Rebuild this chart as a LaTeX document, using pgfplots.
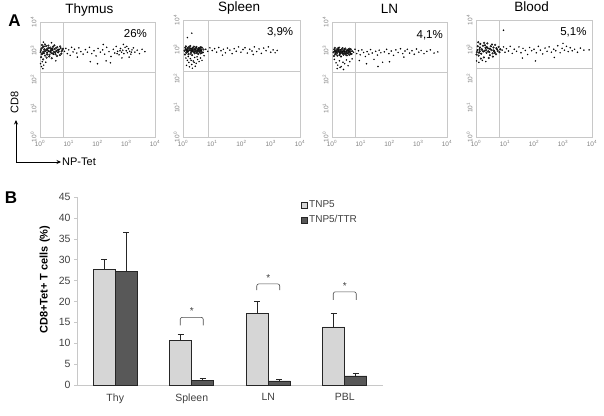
\documentclass[border=0pt]{standalone}
\usepackage{pgfplots}
\pgfplotsset{compat=1.18}
\usepackage{pgfplotstable}
\usepackage{fontspec}
\setmainfont{Liberation Sans}
\usetikzlibrary{arrows.meta}
\definecolor{lightbar}{HTML}{D6D6D6}
\definecolor{darkbar}{HTML}{585858}
\definecolor{axgray}{HTML}{C8C8C8}
\definecolor{txtgray}{HTML}{404040}

% ---------- flow cytometry data (log10 units) ----------
\pgfplotstableread{
x y
0.03 3.02
0.06 2.88
0.09 3.12
0.12 2.97
0.15 3.05
0.18 2.83
0.21 3.16
0.24 2.93
0.27 3.08
0.30 2.99
0.33 2.86
0.36 3.11
0.39 3.01
0.42 2.91
0.45 3.14
0.48 2.96
0.51 3.06
0.54 2.88
0.57 3.00
0.60 3.12
0.63 2.94
0.66 3.04
0.69 2.85
0.72 3.09
0.75 2.98
0.78 3.03
0.04 2.78
0.07 3.20
0.11 2.70
0.14 2.91
0.17 3.22
0.20 3.00
0.23 2.76
0.26 3.02
0.29 3.18
0.32 2.80
0.35 2.98
0.38 3.06
0.41 2.74
0.44 3.03
0.47 2.89
0.50 3.19
0.53 2.95
0.56 3.10
0.59 2.82
0.62 3.02
0.65 2.97
0.70 3.15
0.74 2.90
0.80 3.07
0.02 2.95
0.05 3.08
0.10 2.92
0.13 3.15
0.16 2.98
0.22 3.05
0.25 2.87
0.31 3.09
0.37 2.94
0.43 3.07
}\thycore
\pgfplotstableread{
x y
0.02 2.55
0.05 2.45
0.08 2.62
0.10 2.38
0.13 2.50
0.20 2.60
0.12 3.30
0.40 3.28
0.55 2.65
0.85 2.98
0.90 3.08
0.95 2.90
1.00 3.03
1.05 2.84
1.10 3.12
1.15 2.96
1.20 3.05
1.28 2.92
1.35 3.10
1.42 2.97
1.50 2.88
1.58 3.04
1.65 2.95
1.72 3.12
1.80 2.90
1.88 3.00
1.95 2.82
2.02 3.08
2.10 2.95
2.18 3.03
2.25 2.88
2.32 3.12
2.40 2.97
2.47 2.80
2.55 3.05
2.60 2.92
2.65 3.15
2.70 2.98
2.75 2.86
2.80 3.08
2.84 2.95
2.88 3.02
2.92 2.90
2.96 3.12
3.00 3.00
3.04 2.93
3.08 3.07
3.12 2.98
3.16 2.88
3.20 3.03
3.25 3.10
3.30 2.95
3.38 3.02
3.46 2.90
3.55 3.05
3.65 2.97
2.30 2.65
2.45 2.58
1.75 2.62
2.85 2.75
3.10 2.78
2.20 3.22
2.90 3.22
1.30 2.78
3.02 3.15
3.18 2.95
2.78 3.00
2.68 2.90
2.00 2.55
}\thysparse
\pgfplotstableread{
x y
0.05 2.95
0.08 3.05
0.11 2.88
0.14 3.00
0.17 2.92
0.20 3.08
0.23 2.97
0.26 2.85
0.29 3.02
0.32 2.94
0.35 3.06
0.38 2.90
0.41 2.99
0.44 3.04
0.47 2.87
0.50 2.96
0.53 3.03
0.56 2.91
0.59 3.00
0.62 2.94
0.65 3.05
0.68 2.89
0.07 2.82
0.10 3.10
0.13 2.93
0.16 3.04
0.19 2.83
0.22 3.00
0.25 3.11
0.28 2.90
0.31 2.80
0.34 2.98
0.37 3.09
0.40 2.86
0.43 2.95
0.46 3.08
0.49 2.92
0.52 2.84
0.55 3.01
0.58 2.96
0.61 3.07
0.64 2.88
0.70 2.99
0.12 2.97
0.18 2.96
0.24 3.03
0.30 2.95
0.36 2.92
0.42 3.02
0.48 2.97
0.54 2.93
0.60 2.86
0.09 2.99
0.15 2.90
0.21 3.04
0.27 2.96
0.33 3.01
0.39 2.97
0.45 2.91
0.51 3.00
0.57 3.05
0.63 2.98
}\lymcore
\pgfplotstableread{
x y
0.10 2.70
0.15 2.62
0.20 2.55
0.25 2.68
0.30 2.48
0.35 2.60
0.40 2.72
0.45 2.52
0.50 2.65
0.55 2.58
0.60 2.70
0.12 2.45
0.22 2.40
0.32 2.35
0.42 2.42
0.18 2.75
0.28 2.62
0.38 2.55
0.48 2.74
0.65 2.62
0.72 2.78
0.78 3.00
0.85 2.93
0.92 3.05
1.00 2.96
1.08 3.02
1.15 2.90
1.22 3.06
1.30 2.95
1.38 3.00
1.45 2.88
1.52 3.04
1.60 2.97
1.68 2.85
1.75 3.02
1.82 2.93
1.90 3.08
1.98 2.90
2.05 2.99
2.12 3.05
2.20 2.87
2.28 3.00
2.36 2.94
2.44 3.08
2.52 2.92
2.60 3.01
2.68 2.86
2.76 3.04
2.84 2.95
2.92 3.08
3.00 2.90
3.08 2.98
3.15 2.88
3.22 2.96
0.30 3.55
0.15 3.40
1.35 2.80
2.40 2.82
}\splsparse
\pgfplotstableread{
x y
0.08 2.70
0.14 2.58
0.20 2.50
0.26 2.65
0.32 2.45
0.38 2.60
0.44 2.55
0.50 2.68
0.56 2.48
0.62 2.62
0.18 2.38
0.28 2.42
0.40 2.35
0.70 2.72
0.75 2.95
0.80 3.05
0.86 2.90
0.92 3.00
0.98 2.86
1.04 3.03
1.10 2.94
1.16 2.80
1.22 2.97
1.28 2.88
1.34 3.04
1.40 2.92
1.46 2.70
1.52 2.98
1.58 2.85
1.64 3.02
1.70 2.93
1.76 2.60
1.82 2.96
1.90 3.05
1.98 2.90
2.06 2.99
2.14 2.84
2.22 3.03
2.30 2.94
2.38 3.07
2.46 2.90
2.54 2.99
2.62 3.05
2.70 2.92
2.78 3.00
2.86 2.88
2.94 3.06
3.02 2.95
3.10 3.01
3.20 2.90
3.30 2.98
3.42 3.03
3.55 2.92
3.68 2.96
1.20 2.55
1.60 2.45
2.00 2.62
0.95 2.66
2.50 2.78
}\lnsparse
\pgfplotstableread{
x y
0.03 2.90
0.06 3.10
0.09 2.78
0.12 3.00
0.15 3.18
0.18 2.85
0.21 2.98
0.24 3.12
0.27 2.72
0.30 2.95
0.33 3.05
0.36 2.88
0.39 3.20
0.42 2.93
0.45 3.02
0.48 2.80
0.51 3.10
0.54 2.97
0.57 2.86
0.60 3.06
0.63 2.92
0.66 3.15
0.69 2.83
0.72 3.00
0.75 2.94
0.78 3.08
0.81 2.90
0.84 3.00
0.05 2.97
0.10 2.88
0.14 3.06
0.20 3.00
0.25 2.92
0.31 3.14
0.35 2.97
0.40 3.04
0.46 2.90
0.50 3.00
0.55 3.16
0.61 2.96
0.65 2.88
0.70 3.04
0.08 3.24
0.17 2.68
0.28 3.22
0.44 2.70
0.58 2.75
0.02 2.82
0.13 2.93
0.37 3.08
}\bldcore
\pgfplotstableread{
x y
0.02 2.60
0.10 2.55
0.22 2.62
0.34 2.58
0.90 2.97
0.95 3.08
1.00 2.90
1.05 3.02
1.12 2.94
1.18 3.10
1.25 2.86
1.32 3.00
1.40 2.93
1.48 3.08
1.55 2.88
1.62 3.03
1.70 2.96
1.78 2.82
1.85 3.06
1.92 2.95
2.00 3.00
2.08 2.88
2.15 3.10
2.22 2.97
2.30 2.84
2.38 3.04
2.45 2.93
2.52 3.08
2.60 2.90
2.68 3.00
2.75 2.95
2.82 3.12
2.90 2.88
2.97 3.03
3.05 2.97
3.12 3.10
3.18 2.92
3.25 3.05
3.32 2.95
3.40 3.00
3.50 2.90
3.60 3.04
3.72 2.97
3.90 2.98
0.95 3.65
2.05 2.60
2.70 2.72
3.00 3.20
1.60 2.70
}\bldsparse

% ---------- bar chart data ----------
\pgfplotstableread{
c  a    ea   b    eb
0  27.7 2.4  27.2 9.3
1  10.6 1.5  1.1  0.4
2  17.2 2.8  1.0  0.4
3  13.9 3.3  2.2  0.7
}\bardata

\pgfplotsset{
  facs/.style={
    scale only axis, width=115pt, height=115pt,
    xmin=0, xmax=4, ymin=0, ymax=4,
    anchor=south west, clip=false,
    axis line style={axgray, line width=0.5pt},
    major tick length=0pt,
    xtick={0,1,2,3,4}, ytick={0,1,2,3,4},
    xticklabels={10\textsuperscript{0},10\textsuperscript{1},10\textsuperscript{2},10\textsuperscript{3},10\textsuperscript{4}},
    yticklabels={10\textsuperscript{0},10\textsuperscript{1},10\textsuperscript{2},10\textsuperscript{3},10\textsuperscript{4}},
    xticklabel style={font=\fontsize{6.5}{7}\selectfont, text=gray},
    yticklabel style={font=\fontsize{6.5}{7}\selectfont, text=gray, rotate=90, anchor=south},
  },
  core/.style={only marks, mark=*, mark size=0.85pt, mark options={draw=none, fill=black!48}},
  sparse/.style={only marks, mark=*, mark size=0.55pt, mark options={draw=none, fill=black!36}},
}

\begin{document}
\begin{tikzpicture}
\useasboundingbox (0pt,0pt) rectangle (604pt,-415pt);

% panel letters
\node[font=\fontsize{17}{19}\selectfont\bfseries] at (14.5pt,-21pt) {A};
\node[font=\fontsize{17}{19}\selectfont\bfseries] at (11pt,-197.5pt) {B};

% CD8 / NP-Tet arrows
\draw[line width=0.8pt, -{Stealth[length=4.5pt,width=4pt]}] (16pt,-162pt) -- (16pt,-120pt);
\draw[line width=0.8pt, -{Stealth[length=4.5pt,width=4pt]}] (16pt,-162pt) -- (61pt,-162pt);
\node[font=\fontsize{11}{13}\selectfont, rotate=90] at (14.5pt,-102pt) {CD8};
\node[font=\fontsize{11}{13}\selectfont, anchor=west, inner sep=1pt] at (61pt,-162pt) {NP-Tet};

% Thymus
\begin{axis}[facs, at={(40pt,-137pt)}]
\addplot[sparse] table {\thysparse};
\addplot[core] table {\thycore};
\draw[axgray] (axis cs:0.8,0) -- (axis cs:0.8,4);
\draw[axgray] (axis cs:0,2.26) -- (axis cs:4,2.26);
\node[font=\fontsize{13.5}{15}\selectfont, anchor=base] at (rel axis cs:0.43,1.07) {Thymus};
\node[font=\fontsize{11.5}{13}\selectfont, anchor=base] at (rel axis cs:0.83,0.865) {26\%};
\end{axis}

% Spleen
\begin{axis}[facs, at={(183pt,-137pt)}, width=117pt, height=117pt]
\addplot[sparse] table {\splsparse};
\addplot[core] table {\lymcore};
\draw[axgray] (axis cs:0.85,0) -- (axis cs:0.85,4);
\draw[axgray] (axis cs:0,2.26) -- (axis cs:4,2.26);
\node[font=\fontsize{13.5}{15}\selectfont, anchor=base] at (rel axis cs:0.48,1.07) {Spleen};
\node[font=\fontsize{11.5}{13}\selectfont, anchor=base] at (rel axis cs:0.83,0.865) {3,9\%};
\end{axis}

% LN
\begin{axis}[facs, at={(332pt,-137pt)}]
\addplot[sparse] table {\lnsparse};
\addplot[core] table {\lymcore};
\draw[axgray] (axis cs:0.8,0) -- (axis cs:0.8,4);
\draw[axgray] (axis cs:0,2.26) -- (axis cs:4,2.26);
\node[font=\fontsize{13.5}{15}\selectfont, anchor=base] at (rel axis cs:0.5,1.07) {LN};
\node[font=\fontsize{11.5}{13}\selectfont, anchor=base] at (rel axis cs:0.85,0.855) {4,1\%};
\end{axis}

% Blood
\begin{axis}[facs, at={(476pt,-137pt)}, width=116pt, height=117pt]
\addplot[sparse] table {\bldsparse};
\addplot[core] table {\bldcore};
\draw[axgray] (axis cs:0.79,0) -- (axis cs:0.79,4);
\draw[axgray] (axis cs:0,2.36) -- (axis cs:4,2.36);
\node[font=\fontsize{13.5}{15}\selectfont, anchor=base] at (rel axis cs:0.48,1.07) {Blood};
\node[font=\fontsize{11.5}{13}\selectfont, anchor=base] at (rel axis cs:0.84,0.865) {5,1\%};
\end{axis}

% Bar chart
\begin{axis}[
  at={(77pt,-385pt)}, anchor=south west,
  scale only axis, width=306pt, height=188pt,
  ymin=0, ymax=45, ytick={0,5,...,45},
  xmin=-0.5, xmax=3.5, clip=false,
  axis x line*=bottom, axis y line*=left,
  axis line style={axgray, line width=0.6pt, -},
  xtick={0,1,2,3}, xticklabels={Thy,Spleen,LN,PBL},
  x tick style={draw=none},
  extra x ticks={0.5,1.5,2.5,3.5},
  extra x tick labels={},
  extra x tick style={tick style={draw=axgray, line width=0.5pt}, major tick length=3pt, tick align=outside},
  y tick style={draw=axgray, line width=0.5pt},
  major tick length=3pt, tick align=outside,
  ticklabel style={font=\fontsize{10.5}{12}\selectfont, text=txtgray},
  xticklabel style={yshift=-2pt},
  /pgf/number format/assume math mode=true,
  ylabel={CD8+Tet+ T cells (\%)},
  ylabel style={font=\fontsize{11}{13}\selectfont\bfseries, at={(rel axis cs:-0.105,0.56)}, anchor=center},
  ybar, bar width=22pt,
  legend style={at={(rel axis cs:0.73,0.99)}, anchor=north west, draw=none, fill=none,
    font=\fontsize{10}{12}\selectfont, text=txtgray, row sep=2pt, inner sep=0pt},
  legend cell align=left,
]
\addplot[fill=lightbar, draw=black!85, line width=0.6pt, bar shift=-11pt,
  legend image code/.code={\draw[fill=lightbar, draw=black!85, line width=0.6pt] (0pt,-3pt) rectangle (6pt,3pt);},
  error bars/.cd, y dir=plus, y explicit,
  error bar style={black!85, line width=0.6pt},
  error mark options={rotate=90, mark size=3.2pt, black!85, line width=0.6pt}]
  table[x=c, y=a, y error=ea] {\bardata};
\addlegendentry{TNP5}
\addplot[fill=darkbar, draw=black!85, line width=0.6pt, bar shift=11pt,
  legend image code/.code={\draw[fill=darkbar, draw=black!85, line width=0.6pt] (0pt,-3pt) rectangle (6pt,3pt);},
  error bars/.cd, y dir=plus, y explicit,
  error bar style={black!85, line width=0.6pt},
  error mark options={rotate=90, mark size=3.2pt, black!85, line width=0.6pt}]
  table[x=c, y=b, y error=eb] {\bardata};
\addlegendentry{TNP5/TTR}
% significance brackets
\draw[black!70, line width=0.6pt, rounded corners=2pt] (axis cs:0.85,14.3) -- (axis cs:0.85,16.2) -- (axis cs:1.15,16.2) -- (axis cs:1.15,14.3);
\node[font=\fontsize{10}{11}\selectfont, text=black!75] at (axis cs:1,17.6) {*};
\draw[black!70, line width=0.6pt, rounded corners=2pt] (axis cs:1.85,22.7) -- (axis cs:1.85,24.2) -- (axis cs:2.15,24.2) -- (axis cs:2.15,22.7);
\node[font=\fontsize{10}{11}\selectfont, text=black!75] at (axis cs:2,25.7) {*};
\draw[black!70, line width=0.6pt, rounded corners=2pt] (axis cs:2.85,20.4) -- (axis cs:2.85,22.3) -- (axis cs:3.15,22.3) -- (axis cs:3.15,20.4);
\node[font=\fontsize{10}{11}\selectfont, text=black!75] at (axis cs:3,23.7) {*};
\end{axis}
\end{tikzpicture}
\end{document}
